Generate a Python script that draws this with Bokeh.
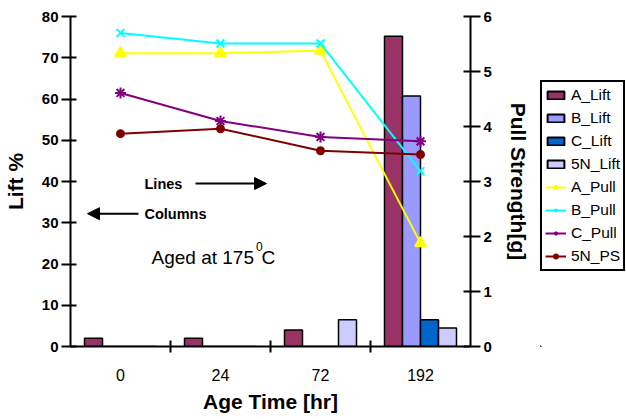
import numpy as np
from bokeh.plotting import figure
from bokeh.layouts import row
from bokeh.models import (Range1d, LinearAxis, FixedTicker, Legend, LegendItem,
                          Arrow, NormalHead, ColumnDataSource)
from bokeh.core.properties import value
from bokeh.embed import file_html
from bokeh.resources import INLINE

# ---- data ----
age_labels = ["0", "24", "72", "192"]
a_lift = [2.0, 2.0, 4.0, 75.2]
b_lift = [0.0, 0.0, 0.0, 60.7]
c_lift = [0.0, 0.0, 0.0, 6.5]
n5_lift = [0.0, 0.0, 6.5, 4.5]
a_pull = [5.33, 5.33, 5.38, 1.88]
b_pull = [5.70, 5.51, 5.51, 3.19]
c_pull = [4.61, 4.10, 3.81, 3.73]
n5_ps = [3.87, 3.96, 3.56, 3.49]

FONT = "Liberation Sans"
centers = np.arange(len(age_labels)) + 0.5

p = figure(width=540, height=419, output_backend="svg", toolbar_location=None,
           x_range=Range1d(0, 4), y_range=Range1d(0, 80),
           min_border_left=70, min_border_right=70, min_border_top=16,
           min_border_bottom=73)
p.outline_line_color = None
p.xgrid.visible = False
p.ygrid.visible = False
p.extra_y_ranges = {"pull": Range1d(0, 6)}

# legend-only figure (its key glyphs sit far outside its visible range)
q = figure(width=86, height=419, output_backend="svg", toolbar_location=None,
           x_axis_type=None, y_axis_type=None, x_range=Range1d(0, 1),
           y_range=Range1d(0, 1), min_border=0)
q.outline_line_color = None
q.xgrid.visible = False
q.ygrid.visible = False

def key_source():
    return ColumnDataSource(dict(x=[-1000.0], y=[-1000.0], b=[-1001.0]))

# bars
bw = 0.18
offs = [-1.5 * bw, -0.5 * bw, 0.5 * bw, 1.5 * bw]
bar_specs = [("A_Lift", a_lift, "#993366"), ("B_Lift", b_lift, "#9999FF"),
             ("C_Lift", c_lift, "#0066CC"), ("5N_Lift", n5_lift, "#CCCCFF")]
items = []
for (name, vals, col), o in zip(bar_specs, offs):
    p.vbar(x=centers + o, top=vals, bottom=0, width=bw, fill_color=col,
           line_color="black", line_width=1.5)
    key = q.vbar(x="x", top="y", bottom="b", width=0.1, source=key_source(),
                 fill_color=col, line_color="black", line_width=2)
    items.append(LegendItem(label=name, renderers=[key]))

# lines
line_specs = [("A_Pull", a_pull, "#FFFF00", "triangle", 11),
              ("B_Pull", b_pull, "#00FFFF", "x", 11),
              ("C_Pull", c_pull, "#800080", "asterisk", 11),
              ("5N_PS", n5_ps, "#800000", "circle", 7)]
for name, vals, col, mk, sz in line_specs:
    p.line(centers, vals, y_range_name="pull", line_color=col, line_width=2)
    p.scatter(centers, vals, y_range_name="pull", marker=mk, size=sz,
              fill_color=col, line_color=col, line_width=2)
    src = key_source()
    kl = q.line("x", "y", source=src, line_color=col, line_width=2)
    ks = q.scatter("x", "y", source=src, marker=mk, size=sz,
                   fill_color=col, line_color=col, line_width=2)
    items.append(LegendItem(label=name, renderers=[kl, ks]))

# axes styling
def style_axis(ax):
    ax.axis_line_width = 2
    ax.axis_line_color = "black"
    ax.major_tick_line_width = 2
    ax.major_tick_line_color = "black"
    ax.minor_tick_line_color = None
    ax.major_label_text_font = FONT
    ax.major_label_text_font_style = "bold"
    ax.major_label_text_font_size = "15px"
    ax.major_label_text_color = "black"
    ax.axis_label_text_font = FONT
    ax.axis_label_text_font_style = "bold"
    ax.axis_label_text_font_size = "21px"
    ax.axis_label_text_color = "black"

yl = p.yaxis[0]
style_axis(yl)
yl.ticker = FixedTicker(ticks=list(range(0, 81, 10)))
yl.major_tick_in = 6
yl.major_tick_out = 9
yl.major_label_standoff = 3
yl.axis_label = "Lift %"
yl.axis_label_standoff = 12

yr = LinearAxis(y_range_name="pull", axis_label="Pull Strength[g]")
style_axis(yr)
yr.ticker = FixedTicker(ticks=list(range(0, 7)))
yr.major_tick_in = 7
yr.major_tick_out = 10
yr.major_label_standoff = 3
yr.axis_label_standoff = 12
p.add_layout(yr, "right")

xa = p.xaxis[0]
style_axis(xa)
xa.ticker = FixedTicker(ticks=list(centers), minor_ticks=[1, 2, 3])
xa.major_label_overrides = {float(c): lab for c, lab in zip(centers, age_labels)}
xa.major_tick_line_color = None
xa.major_tick_in = 0
xa.major_tick_out = 0
xa.minor_tick_line_color = "black"
xa.minor_tick_line_width = 2
xa.minor_tick_in = 6
xa.minor_tick_out = 6
xa.major_label_text_font_style = "normal"
xa.major_label_text_font_size = "16px"
xa.major_label_standoff = 16
xa.axis_label = "Age Time [hr]"
xa.axis_label_standoff = 6
xa.axis_label_text_font_size = "21px"

# legend
leg = Legend(items=items, location=(0, 75), border_line_color="black",
             border_line_width=2, border_line_alpha=1.0, background_fill_alpha=1,
             label_text_font=FONT, label_text_font_size="15.5px",
             label_text_color="black",
             label_height=20, glyph_height=10, glyph_width=21,
             spacing=3, padding=3, margin=0, label_standoff=5)
q.add_layout(leg, "center")

# annotations
p.text(x=[0.74], y=[39.5], text=["Lines"], text_font=value(FONT),
       text_font_style="bold", text_font_size="14.5px", text_baseline="middle",
       text_color="black")
p.add_layout(Arrow(end=NormalHead(size=12, fill_color="black", line_color="black"),
                   x_start=1.25, y_start=39.5, x_end=1.96, y_end=39.5,
                   line_width=2, line_color="black"))
p.text(x=[0.74], y=[32.2], text=["Columns"], text_font=value(FONT),
       text_font_style="bold", text_font_size="14.5px", text_baseline="middle",
       text_color="black")
p.add_layout(Arrow(end=NormalHead(size=12, fill_color="black", line_color="black"),
                   x_start=0.68, y_start=32.2, x_end=0.17, y_end=32.2,
                   line_width=2, line_color="black"))
p.text(x=[0.81], y=[21.65], text=["Aged at 175"], text_font=value(FONT),
       text_font_size="19px", text_baseline="alphabetic", text_color="black")
p.text(x=[1.855], y=[24.2], text=["0"], text_font=value(FONT),
       text_font_size="12px", text_baseline="alphabetic", text_color="black")
p.text(x=[1.91], y=[21.65], text=["C"], text_font=value(FONT),
       text_font_size="19px", text_baseline="alphabetic", text_color="black")

layout = row(p, q)
open("out.html", "w").write(file_html(layout, INLINE))
